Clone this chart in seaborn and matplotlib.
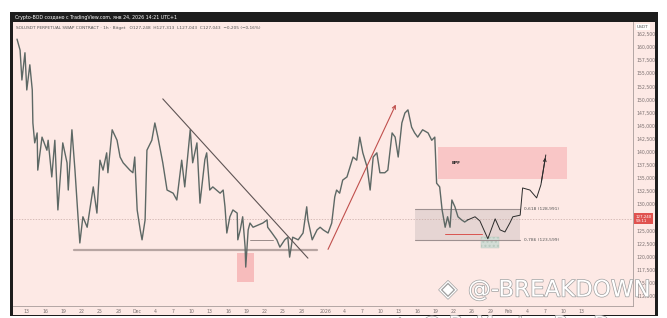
import matplotlib
matplotlib.use("Agg")
import matplotlib.pyplot as plt
import seaborn as sns
import pandas as pd
from matplotlib.patches import Rectangle
from matplotlib.transforms import blended_transform_factory
import matplotlib.patheffects as pe

sns.set_style("white")
plt.rcParams['font.family'] = ['DejaVu Sans']

# ---- data (days since 13 Nov 2025, SOL price) ----
days = [-1.6, -1.1, -0.8, -0.3, 0.0, 0.5, 0.9, 1.0, 1.3, 1.7, 1.8, 2.5, 3.3, 3.5, 4.1, 4.6, 5.1,
        5.9, 6.6, 6.8, 7.4, 7.9, 8.4, 8.7, 9.2, 9.9, 10.9, 11.5, 12.0, 12.5, 13.1, 13.3, 14.0,
        14.8, 15.3, 15.8, 16.9, 17.4, 17.7, 18.1, 18.6, 18.9, 19.4, 19.7, 20.5, 21.0, 21.5,
        22.3, 23.0, 24.0, 24.6, 25.4, 25.9, 26.8, 27.2, 27.9, 28.4, 29.2, 29.5, 30.0, 30.5,
        31.7, 32.2, 32.5, 32.8, 33.3, 33.8, 34.5, 34.6, 35.0, 35.4, 35.8, 35.9, 36.3, 36.6,
        37.1, 37.9, 38.7, 39.4, 39.5, 40.2, 41.0, 41.5, 42.3, 42.8, 43.1, 43.6, 44.5, 45.3,
        45.9, 46.1, 46.8, 47.6, 48.1, 48.6, 49.4, 50.0, 50.5, 50.8, 51.3, 51.8, 52.5, 53.0,
        53.5, 54.1, 54.6, 55.1, 55.8, 56.3, 56.8, 57.4, 57.9, 58.7, 59.2, 59.9, 60.4, 60.9,
        61.5, 62.0, 62.5, 63.1, 63.6, 64.1, 64.9, 65.8, 66.4, 66.9, 67.2, 67.7, 68.1, 68.6,
        69.0, 69.4, 69.7, 70.2, 70.7, 71.3, 71.8, 72.3]
price = [161.5, 159.4, 153.7, 158.9, 151.8, 156.6, 151.8, 145.5, 141.7, 143.6, 136.5, 142.8,
         140.3, 142.2, 135.2, 142.2, 128.9, 141.7, 137.9, 132.7, 144.2, 136.5, 127.6, 122.6,
         127.6, 125.6, 133.3, 128.3, 138.4, 136.5, 139.8, 136.0, 144.2, 142.2, 139.0, 137.9,
         136.5, 136.0, 139.0, 128.9, 125.1, 123.2, 127.0, 140.3, 142.2, 145.5, 142.8, 137.9,
         132.7, 132.1, 130.8, 138.4, 133.3, 144.2, 137.9, 141.7, 130.2, 138.5, 139.8, 132.7,
         133.3, 132.1, 132.7, 129.5, 124.5, 127.6, 128.9, 128.3, 123.2, 125.1, 127.6, 121.8,
         118.0, 125.1, 126.4, 125.6, 126.0, 126.4, 127.0, 125.6, 124.5, 123.2, 121.8, 123.2,
         123.7, 119.9, 123.7, 123.2, 124.5, 129.5, 127.0, 123.2, 125.1, 125.6, 125.1, 124.5,
         126.4, 131.4, 132.7, 132.1, 134.6, 135.2, 137.1, 139.0, 138.4, 142.8, 139.8, 137.1,
         132.7, 139.0, 139.8, 136.0, 136.0, 136.5, 143.6, 142.8, 139.0, 145.5, 147.4, 148.0,
         144.7, 143.6, 142.8, 144.2, 143.6, 142.2, 142.8, 134.0, 133.3, 128.9, 125.6, 127.6,
         125.6, 130.8, 129.5, 127.6, 127.0, 126.6, 127.0]
proj_days = [72.3, 73.5, 74.3, 75.6, 76.8, 77.6, 78.4, 79.2, 79.7, 80.9, 81.3, 82.5, 83.6, 84.3, 85.1]
proj_price = [127.0, 127.6, 126.8, 123.4, 127.2, 125.1, 124.7, 126.4, 127.6, 127.9, 133.1,
              132.7, 131.2, 133.7, 139.4]
# 127,500 is hidden behind the last-price label in the reference
price_ticks = [112.5, 115.0, 117.5, 120.0, 122.5, 125.0, 130.0, 132.5, 135.0, 137.5,
               140.0, 142.5, 145.0, 147.5, 150.0, 152.5, 155.0, 157.5, 160.0, 162.5]
tick_days = [0, 3, 6, 9, 12, 15, 18, 21, 24, 27, 30, 33, 36, 39, 42, 45, 49, 52, 55, 58, 61,
             64, 67, 70, 73, 76, 79, 82, 85, 88, 91]
tick_labels = ["13", "16", "19", "22", "25", "28", "Dec", "4", "7", "10", "13", "16", "19",
               "22", "25", "28", "2026", "4", "7", "10", "13", "16", "19", "22", "26", "29",
               "Feb", "4", "7", "10", "13"]
last_price = 127.24
fib_618 = 128.991
fib_786 = 123.599

df = pd.DataFrame({"day": days, "price": price})
dproj = pd.DataFrame({"day": proj_days, "price": proj_price})

BG = '#fde9e5'
W, H = 667, 318
def fx(px): return px / W
def fy(py): return 1 - py / H

fig = plt.figure(figsize=(6.67, 3.18), dpi=100)
fig.patch.set_facecolor('white')
fig.add_artist(Rectangle((fx(10), fy(316)), fx(658) - fx(10), fy(12) - fy(316),
                         transform=fig.transFigure, facecolor='#1d1d1d', edgecolor='none', zorder=-3))
fig.add_artist(Rectangle((fx(13), fy(315)), fx(655) - fx(13), fy(22) - fy(315),
                         transform=fig.transFigure, facecolor=BG, edgecolor='none', zorder=-2))

ax = fig.add_axes([fx(13), fy(306), fx(633) - fx(13), fy(22) - fy(306)])
ax.set_facecolor(BG)
ax.set_xlim(-2.26, 99.4)
ax.set_ylim(110.57, 164.77)

# annotations behind price
ax.add_patch(Rectangle((34.5, 115.2), 2.7, 5.5, facecolor='#f7bcbc', edgecolor='none', zorder=1))
ax.add_patch(Rectangle((67.4, 134.8), 21.2, 6.1, facecolor='#f9c6c6', edgecolor='none', zorder=1))
ax.add_patch(Rectangle((63.6, fib_786 - 0.4), 17.3, fib_618 - fib_786 + 0.4,
                       facecolor='#e6d5d3', edgecolor='none', zorder=1))
ax.plot([63.6, 80.9], [fib_618, fib_618], color='#9e9090', lw=0.8, zorder=2)
ax.plot([63.6, 80.9], [fib_786 - 0.4, fib_786 - 0.4], color='#9e9090', lw=0.8, zorder=2)
ax.add_patch(Rectangle((74.5, 121.6), 2.9, 2.1, facecolor='#d3ddd6', edgecolor='#b9c9be',
                       lw=0.3, hatch='....', zorder=1))
ax.axhline(last_price, color='#c7aaa6', lw=0.5, ls=(0, (2, 2)), zorder=1)

ax.plot([7.7, 47.6], [121.3, 121.3], color='#b7a5a2', lw=1.6, zorder=2)
ax.plot([22.3, 46.1], [150.1, 119.7], color='#5e5454', lw=0.8, zorder=4)
ax.plot([36.6, 40.4], [123.2, 123.2], color='#8a7c7a', lw=0.6, zorder=2)
ax.plot([68.6, 74.6], [124.3, 124.3], color='#d9534f', lw=0.7, zorder=4)
ax.annotate('', xy=(60.7, 149.5), xytext=(49.2, 120.9),
            arrowprops=dict(arrowstyle='->', color='#c0504d', lw=0.8, mutation_scale=6), zorder=4)

sns.lineplot(data=df, x="day", y="price", ax=ax, color='#5d6865', lw=1.0,
             estimator=None, sort=False, zorder=3)
sns.lineplot(data=dproj, x="day", y="price", ax=ax, color='#2b2b2b', lw=0.7,
             estimator=None, sort=False, zorder=4)
ax.annotate('', xy=(proj_days[-1], proj_price[-1]), xytext=(proj_days[-2], proj_price[-2]),
            arrowprops=dict(arrowstyle='->', color='#2b2b2b', lw=0.7, mutation_scale=5), zorder=4)

ax.text(69.7, 137.9, "EPF", fontsize=3.2, color='#222', va='center', fontweight='bold')
ax.text(81.6, fib_618, "0,618 (128,991)", fontsize=3.2, color='#555', va='center')
ax.text(81.6, fib_786 - 0.4, "0,786 (123,599)", fontsize=3.2, color='#555', va='center')

# axes styling
ax.set_xlabel(""); ax.set_ylabel("")
ax.yaxis.tick_right()
ax.set_yticks(price_ticks)
ax.set_yticklabels([f"{v:,.3f}".replace('.', ',') for v in price_ticks])
ax.set_xticks(tick_days)
ax.set_xticklabels(tick_labels)
ax.tick_params(axis='both', length=0, labelsize=3.3, colors='#7a7070', pad=2.5)
for s in ['top', 'left']:
    ax.spines[s].set_visible(False)
for s in ['right', 'bottom']:
    ax.spines[s].set_color('#a89c9a')
    ax.spines[s].set_linewidth(0.6)

tr = blended_transform_factory(ax.transAxes, ax.transData)
ax.text(1.004, last_price, "127,240\n59:11", transform=tr, fontsize=2.9, color='white',
        va='center', ha='left', linespacing=1.1,
        bbox=dict(facecolor='#e0524f', edgecolor='none', pad=0.8))

# header texts
fig.text(fx(15), fy(17), "Crypto-BOD создано с TradingView.com, янв 24, 2026 14:21 UTC+1",
         fontsize=3.4, color='white', va='center')
ax.text(0.005, 0.985, "SOLUSDT PERPETUAL SWAP CONTRACT · 1h · Bitget   O127,248  H127,313  "
        "L127,043  C127,043  −0,205 (−0,16%)", transform=ax.transAxes, fontsize=3.1,
        color='#555', va='top')
fig.text(fx(637), fy(27), "USDT", fontsize=3.2, color='#555', va='center',
         bbox=dict(facecolor='white', edgecolor='none', pad=0.6))

# watermark
stroke = [pe.withStroke(linewidth=1.0, foreground='#a0a0a0')]
fig.text(fx(448), fy(289), "◈", fontsize=17, color='white', va='center', ha='center',
         path_effects=stroke)
fig.text(fx(468), fy(290), "@-BREAKDOWN", fontsize=16.5, color='white', va='center',
         path_effects=stroke)
fig.text(fx(392), fy(325), "◈  @ BeMaster BuyDream", fontsize=15, color='white',
         va='center', path_effects=stroke)

fig.savefig("out.png", dpi=100, facecolor='white')
